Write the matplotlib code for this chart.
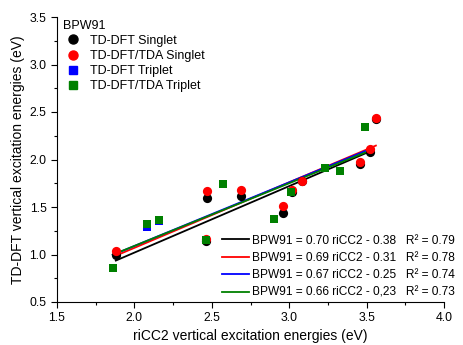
import matplotlib
matplotlib.use("Agg")
import matplotlib.pyplot as plt
import numpy as np
from matplotlib.ticker import MultipleLocator
from matplotlib.lines import Line2D

plt.rcParams['font.family'] = ['Liberation Sans', 'DejaVu Sans']

# Singlets (riCC2 x, TD-DFT y)
s_x = [1.88, 2.46, 2.47, 2.69, 2.96, 3.02, 3.08, 3.46, 3.52, 3.56]
tddft_singlet = [1.00, 1.14, 1.60, 1.62, 1.44, 1.66, 1.77, 1.95, 2.08, 2.43]
tda_singlet = [1.04, 1.16, 1.67, 1.68, 1.51, 1.68, 1.77, 1.97, 2.11, 2.44]

# Triplets
t_x = [1.86, 2.08, 2.16, 2.46, 2.57, 2.90, 3.01, 3.23, 3.33, 3.49]
tddft_triplet = [0.86, 1.29, 1.35, 1.15, 1.74, 1.37, 1.66, 1.91, 1.88, 2.34]
tda_triplet = [0.86, 1.32, 1.36, 1.15, 1.74, 1.37, 1.66, 1.91, 1.88, 2.34]

# Fit parameters and labels
fit_slopes = [0.70, 0.69, 0.67, 0.66]
fit_intercepts = [-0.38, -0.31, -0.25, -0.23]
fit_labels = ["BPW91 = 0.70 riCC2 - 0.38   R² = 0.79",
              "BPW91 = 0.69 riCC2 - 0.31   R² = 0.78",
              "BPW91 = 0.67 riCC2 - 0.25   R² = 0.74",
              "BPW91 = 0.66 riCC2 - 0,23   R² = 0.73"]
fit_colors = ['black', 'red', 'blue', 'green']
fit_ranges = [(1.88, 3.52), (1.88, 3.56), (1.86, 3.49), (1.86, 3.49)]

fig = plt.figure(figsize=(4.63, 3.45), dpi=100)
ax = fig.add_axes([57/463, 1-302/345, (444-57)/463, (302-17)/345])

ax.scatter(s_x, tddft_singlet, s=44, c='black', marker='o', zorder=3, linewidths=0)
ax.scatter(s_x, tda_singlet, s=44, c='red', marker='o', zorder=3, linewidths=0)
ax.scatter(t_x, tddft_triplet, s=36, c='blue', marker='s', zorder=3, linewidths=0)
ax.scatter(t_x, tda_triplet, s=36, c='green', marker='s', zorder=3, linewidths=0)

line_handles = []
for m, b, lab, col, (x0, x1) in zip(fit_slopes, fit_intercepts, fit_labels, fit_colors, fit_ranges):
    xx = np.array([x0, x1])
    h, = ax.plot(xx, m*xx + b, color=col, lw=1.3, zorder=2, label=lab)
    line_handles.append(h)

ax.set_xlim(1.5, 4.0)
ax.set_ylim(0.5, 3.5)
ax.xaxis.set_major_locator(MultipleLocator(0.5))
ax.xaxis.set_minor_locator(MultipleLocator(0.25))
ax.yaxis.set_major_locator(MultipleLocator(0.5))
ax.yaxis.set_minor_locator(MultipleLocator(0.25))
ax.spines['top'].set_visible(False)
ax.spines['right'].set_visible(False)
ax.tick_params(which='both', direction='out', labelsize=8.8, width=0.8)
ax.tick_params(which='major', length=4)
ax.tick_params(which='minor', length=2.5)
ax.set_xlabel("riCC2 vertical excitation energies (eV)", fontsize=10, labelpad=3)
ax.set_ylabel("TD-DFT vertical excitation energies (eV)", fontsize=10, labelpad=3)

marker_handles = [
    Line2D([], [], ls='none', marker='o', color='black', markersize=6.5),
    Line2D([], [], ls='none', marker='o', color='red', markersize=6.5),
    Line2D([], [], ls='none', marker='s', color='blue', markersize=5.5),
    Line2D([], [], ls='none', marker='s', color='green', markersize=5.5),
]
marker_labels = ["TD-DFT Singlet", "TD-DFT/TDA Singlet", "TD-DFT Triplet", "TD-DFT/TDA Triplet"]
leg1 = ax.legend(marker_handles, marker_labels, title="BPW91", loc='upper left',
                 bbox_to_anchor=(-0.008, 1.02), frameon=False, fontsize=9,
                 title_fontsize=9, handlelength=1.6, handletextpad=0.55,
                 labelspacing=0.25, borderpad=0.2, alignment='left')
leg1._legend_box.sep = 2
ax.add_artist(leg1)
ax.legend(line_handles, fit_labels, loc='lower right', bbox_to_anchor=(1.05, -0.018),
          frameon=False, fontsize=8.6, handlelength=2.3, handletextpad=0.25,
          labelspacing=0.45, borderpad=0.2)

fig.savefig("out.png", dpi=100)
